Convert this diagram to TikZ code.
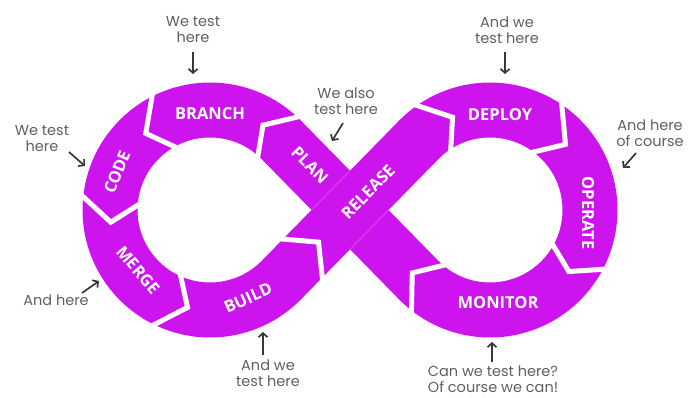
\documentclass[tikz,border=0pt]{standalone}
\usepackage{fontspec}
\setmainfont{Poppins}
\newfontfamily\lblfont{Open Sans}
\usetikzlibrary{calc,arrows.meta}
\definecolor{band}{RGB}{206,20,238}
\definecolor{notegray}{RGB}{95,95,95}
\definecolor{arrgray}{RGB}{55,55,55}
\begin{document}
\begin{tikzpicture}[x=1pt,y=1pt,
  bandline/.style={draw=band,line width=55pt,line join=round},
  cut/.style={draw=white,line width=5pt,line join=miter},
  edgeline/.style={draw=band!72!white,line width=0.7pt},
  lbl/.style={text=white,font=\lblfont\bfseries\fontsize{16.5}{17}\selectfont,inner sep=0pt},
  notetext/.style={text=notegray,font=\fontsize{14.5}{16}\selectfont,align=center,inner sep=0pt},
  pointer/.style={draw=arrgray,line width=1.7pt,-{Straight Barb[length=4pt,width=9pt]}}]
\useasboundingbox (0,0) rectangle (690,397);
% centres and tangent points
\coordinate (C1) at (210,187);
\coordinate (C2) at (490,187);
\coordinate (T1u) at ($(C1)+(44.415:100)$);
\coordinate (T1d) at ($(C1)+(-44.415:100)$);
\coordinate (T2u) at ($(C2)+(135.585:100)$);
\coordinate (T2d) at ($(C2)+(-135.585:100)$);
% the infinity band
\path[bandline] (T1d) -- (T2u) arc[start angle=135.585,end angle=-135.585,radius=100]
  -- (T1u) arc[start angle=44.415,end angle=315.585,radius=100] -- cycle;
% faint edges of RELEASE over PLAN
\begin{scope}
\clip ($(T2d)!27.5pt!90:(T1u)$) -- ($(T1u)!27.5pt!-90:(T2d)$) -- ($(T1u)!27.5pt!90:(T2d)$) -- ($(T2d)!27.5pt!-90:(T1u)$) -- cycle;
\draw[edgeline] ($(T1d)!27.5pt!90:(T2u)$) -- ($(T2u)!27.5pt!-90:(T1d)$);
\draw[edgeline] ($(T1d)!27.5pt!-90:(T2u)$) -- ($(T2u)!27.5pt!90:(T1d)$);
\end{scope}
% chevron cuts
\newcommand\chev[3]{\draw[cut] ($(#1)+(#2:134)$) -- ($(#1)+(#3:100)$) -- ($(#1)+(#2:66)$);}
\chev{C1}{45}{58}
\chev{C1}{115}{130}
\chev{C1}{172}{187}
\chev{C1}{242}{257}
\chev{C2}{127}{112}
\chev{C2}{58}{41}
\chev{C2}{-26}{-38}
\chev{C2}{234}{219}
\coordinate (d0) at ($(T1d)!25pt!(T2u)$);
\coordinate (dv) at ($(T1d)!53pt!(T2u)$);
\draw[cut] ($(d0)!34pt!90:(T2u)$) -- (dv) -- ($(d0)!34pt!-90:(T2u)$);
% labels
\node[lbl] (branch) at (210,283) {BRANCH};
\node[lbl,rotate=68] (code) at (117,225) {CODE};
\node[lbl,rotate=-50] (merge) at (138,127) {MERGE};
\node[lbl,rotate=24] (build) at (248,99) {BUILD};
\node[lbl,rotate=-45.6] (plan) at (310,232) {PLAN};
\node[lbl,rotate=45.6] (release) at (368,205) {RELEASE};
\node[lbl] (deploy) at (500,282) {DEPLOY};
\node[lbl,rotate=-90] (operate) at (588,184) {OPERATE};
\node[lbl] (monitor) at (498,94) {MONITOR};
% annotations
\node[notetext] (n1) at (193,367) {We test\\here};
\node[notetext] (n2) at (42,258) {We test\\here};
\node[notetext] (n3) at (56,97) {And here};
\node[notetext] (n4) at (268,24) {And we\\test here};
\node[notetext] (n5) at (346,296) {We also\\test here};
\node[notetext] (n6) at (507,367) {And we\\test here};
\node[notetext] (n7) at (650,264) {And here\\of course};
\node[notetext] (n8) at (493,18) {Can we test here?\\Of course we can!};
\coordinate (a1s) at (193,345); \coordinate (a1e) at (193,323);
\coordinate (a2s) at (69,245);  \coordinate (a2e) at (85,231);
\coordinate (a3s) at (82,104);  \coordinate (a3e) at (99,116);
\coordinate (a4s) at (263,42);  \coordinate (a4e) at (263,65);
\coordinate (a5s) at (343,274); \coordinate (a5e) at (332,256);
\coordinate (a6s) at (505,345); \coordinate (a6e) at (505,323);
\coordinate (a7s) at (636,244); \coordinate (a7e) at (623,229);
\coordinate (a8s) at (492,35);  \coordinate (a8e) at (492,55);
\foreach \i in {1,...,8} {\draw[pointer] (a\i s) -- (a\i e);}
\end{tikzpicture}
\end{document}
